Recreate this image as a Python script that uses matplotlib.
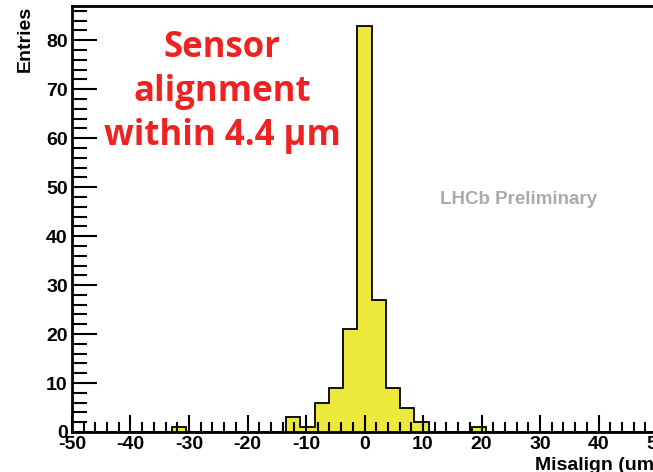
import numpy as np
import matplotlib
matplotlib.use("Agg")
import matplotlib.pyplot as plt
from matplotlib.ticker import MultipleLocator

# Histogram of sensor misalignments: 41 bins from -50 to 50 um
x_range = (-50, 50)
n_bins = 41
counts = [0, 0, 0, 0, 0, 0, 0, 1, 0, 0,
          0, 0, 0, 0, 0, 3, 1, 6, 9, 21,
          83, 27, 9, 5, 2, 0, 0, 0, 1, 0,
          0, 0, 0, 0, 0, 0, 0, 0, 0, 0,
          0]
y_max = 87

plt.rcParams['axes.unicode_minus'] = False
plt.rcParams['font.family'] = ['Liberation Sans', 'DejaVu Sans']

fig = plt.figure(figsize=(6.53, 4.72), dpi=100)
ax = fig.add_axes([72 / 653, 40 / 472, 585 / 653, 426 / 472])

edges = np.linspace(x_range[0], x_range[1], n_bins + 1)
ax.stairs(counts, edges, fill=True, facecolor='#ece83c', edgecolor='none', zorder=1)
ax.stairs(counts, edges, fill=False, color='black', linewidth=1.3, zorder=1.5)

ax.set_xlim(*x_range)
ax.set_ylim(0, y_max)

ax.xaxis.set_major_locator(MultipleLocator(10))
ax.xaxis.set_minor_locator(MultipleLocator(2))
ax.yaxis.set_major_locator(MultipleLocator(10))
ax.yaxis.set_minor_locator(MultipleLocator(2))
ax.tick_params(which='both', direction='in', width=1.5, color='black')
ax.tick_params(axis='x', which='major', length=12, pad=3)
ax.tick_params(axis='x', which='minor', length=7)
ax.tick_params(axis='y', which='major', length=18, pad=3)
ax.tick_params(axis='y', which='minor', length=11)
for lab in ax.get_xticklabels() + ax.get_yticklabels():
    lab.set_fontweight('bold')
    lab.set_fontsize(14)

for s in ax.spines.values():
    s.set_linewidth(2)

fig.text(25 / 653, 1 - 6 / 472, 'Entries', rotation=90, ha='center', va='top',
         fontsize=14, fontweight='bold')
fig.text(535 / 653, 1 - 466 / 472, 'Misalign (um)', ha='left', va='center',
         fontsize=14, fontweight='bold')

fig.text(222 / 653, 1 - 92 / 472, 'Sensor\nalignment\nwithin 4.4 \u03bcm',
         ha='center', va='center', color='#ee2222', fontsize=25, fontweight='bold',
         family=['Open Sans', 'DejaVu Sans'], linespacing=1.28)
fig.text(519 / 653, 1 - 199 / 472, 'LHCb Preliminary', ha='center', va='center',
         color='#aaaaaa', fontsize=13.5, fontweight='bold')

fig.savefig('out.png', dpi=100)
